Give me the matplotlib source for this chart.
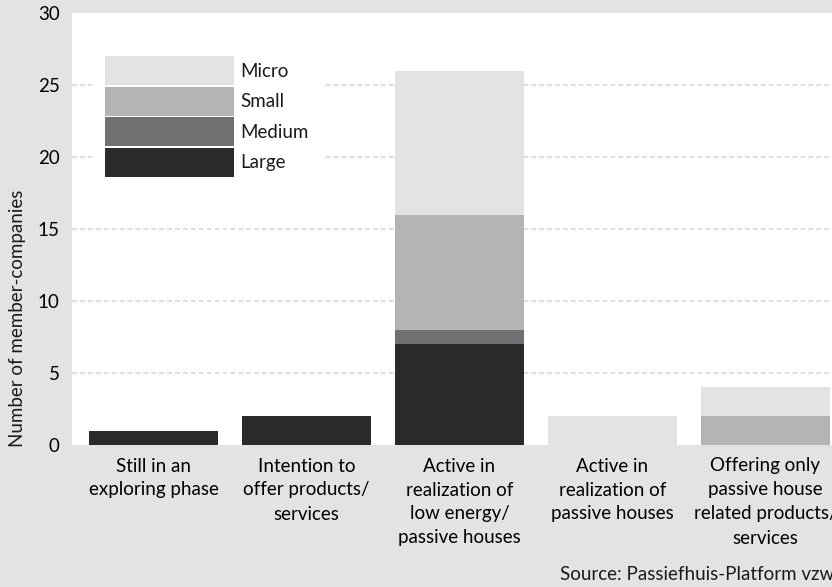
import matplotlib
matplotlib.use('Agg')
import matplotlib.pyplot as plt
from matplotlib.patches import Patch

# Data
categories = ['Still in an\nexploring phase',
              'Intention to\noffer products/\nservices',
              'Active in\nrealization of\nlow energy/\npassive houses',
              'Active in\nrealization of\npassive houses',
              'Offering only\npassive house\nrelated products/\nservices']
large = [1, 2, 7, 0, 0]
medium = [0, 0, 1, 0, 0]
small = [0, 0, 8, 0, 2]
micro = [0, 0, 10, 2, 2]

sizes = ['Large', 'Medium', 'Small', 'Micro']
colors = ['#2a2a2a', '#6f7071', '#b3b4b5', '#e2e3e2']
bg = '#e2e3e2'

plt.rcParams['font.family'] = ['Lato', 'DejaVu Sans']
plt.rcParams['font.size'] = 13.5
plt.rcParams['text.color'] = '#1a1a1a'

fig = plt.figure(figsize=(8.32, 5.87), dpi=100, facecolor=bg)
ax = fig.add_axes([72 / 832, 142 / 587, 760 / 832, 432 / 587])
ax.set_facecolor('white')

x = list(range(len(categories)))
bottom = [0] * len(categories)
for vals, col in zip([large, medium, small, micro], colors):
    ax.bar(x, vals, bottom=bottom, width=0.843, color=col, linewidth=0, zorder=2)
    bottom = [b + v for b, v in zip(bottom, vals)]

ax.set_xlim(-0.533, 4.435)
ax.set_ylim(0, 30)
ax.set_yticks([0, 5, 10, 15, 20, 25, 30])
ax.set_xticks(x)
ax.set_xticklabels(categories, linespacing=1.5)
ax.tick_params(axis='x', length=0, pad=9)
ax.tick_params(axis='y', length=0, pad=9)
for s in ax.spines.values():
    s.set_visible(False)

for y in [5, 10, 15, 20, 25]:
    ax.axhline(y, color='#e0e0e0', lw=1.5, linestyle=(0, (2.4, 1.4)), zorder=1)

handles = [Patch(facecolor=c, edgecolor='none') for c in colors][::-1]
leg = ax.legend(handles, sizes[::-1], loc='upper left',
                bbox_to_anchor=(20 / 760, 402 / 432), borderaxespad=0,
                frameon=True, fancybox=False, borderpad=0.7,
                handlelength=6.88, handleheight=2.0, labelspacing=0.08,
                handletextpad=0.35)
leg.get_frame().set_facecolor('white')
leg.get_frame().set_edgecolor('none')
leg.get_frame().set_alpha(1)
leg.set_zorder(5)

fig.text(18 / 832, 1 - 318 / 587, 'Number of member-companies', rotation=90,
         ha='center', va='center')
fig.text(1.003, 13 / 587, 'Source: Passiefhuis-Platform vzw', ha='right', va='center')

fig.savefig('out.png', dpi=100, facecolor=bg)
